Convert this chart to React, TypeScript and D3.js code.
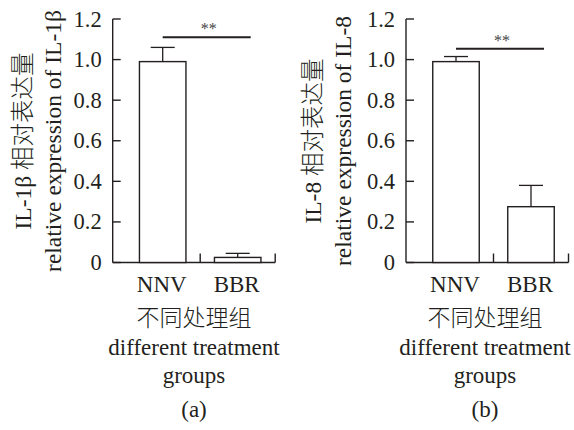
import React from "react";
import * as d3 from "d3";

// values
const groups = ["NNV", "BBR"];
const il1bMean = [0.99, 0.025];
const il1bErr = [0.07, 0.02];
const il8Mean = [0.99, 0.275];
const il8Err = [0.025, 0.105];
const sigLevels = [1.11, 1.053];
const yTicks = [0, 0.2, 0.4, 0.6, 0.8, 1.0, 1.2];
const yLabelCn = ["IL-1β 相对表达量", "IL-8 相对表达量"];
const yLabelEn = ["relative expression of IL-1β", "relative expression of IL-8"];
const panelTags = ["(a)", "(b)"];

const W = 574;
const H = 430;
const FONT = "'Liberation Serif', 'Times New Roman', 'Noto Sans CJK SC', serif";
const INK = "#231f20";

const y = d3.scaleLinear().domain([0, 1.2]).range([262.5, 19]);

function Panel({ axisX, labelX, textX, means, errs, sig, cn, en, tag }) {
  // band scale for the two groups
  const x = d3
    .scaleBand()
    .domain(groups)
    .range([axisX + 12.5, axisX + 162.5])
    .paddingInner(0.38)
    .paddingOuter(0.19);
  const bw = x.bandwidth();
  const step = x.step();
  const x0 = x.range()[0];
  const y0 = y(0);
  const cx = (g) => x(g) + bw / 2;
  const sigX1 = cx(groups[0]);
  const sigX2 = cx(groups[1]) + 13;

  return (
    <g fontFamily={FONT} fill={INK}>
      {/* y axis */}
      <line x1={axisX} x2={axisX} y1={y(1.2)} y2={y0} stroke={INK} strokeWidth={1.4} />
      {yTicks.map((t) => (
        <g key={t}>
          <line x1={axisX} x2={axisX + 8} y1={y(t)} y2={y(t)} stroke={INK} strokeWidth={1.4} />
          <text x={axisX - 11} y={y(t)} textAnchor="end" dominantBaseline="central" fontSize={22.5}>
            {t === 0 ? "0" : t.toFixed(1)}
          </text>
        </g>
      ))}
      {/* x axis */}
      <line x1={axisX} x2={x0 + step * 2} y1={y0} y2={y0} stroke={INK} strokeWidth={1.4} />
      {groups.map((g, i) => (
        <line
          key={g}
          x1={x0 + step * (i + 1)}
          x2={x0 + step * (i + 1)}
          y1={y0}
          y2={y0 - 9}
          stroke={INK}
          strokeWidth={1.4}
        />
      ))}
      {/* bars and error bars */}
      {groups.map((g, i) => (
        <g key={g}>
          <line x1={cx(g)} x2={cx(g)} y1={y(means[i])} y2={y(means[i] + errs[i])} stroke={INK} strokeWidth={1.3} />
          <line x1={cx(g) - 12} x2={cx(g) + 12} y1={y(means[i] + errs[i])} y2={y(means[i] + errs[i])} stroke={INK} strokeWidth={1.3} />
          <rect x={x(g)} y={y(means[i])} width={bw} height={y0 - y(means[i])} fill="#fff" stroke={INK} strokeWidth={1.4} />
          <text x={cx(g) - 1} y={292} textAnchor="middle" fontSize={23}>{g}</text>
        </g>
      ))}
      {/* significance */}
      <line x1={sigX1} x2={sigX2} y1={y(sig)} y2={y(sig)} stroke={INK} strokeWidth={2} />
      <text x={(sigX1 + sigX2) / 2 + 2} y={y(sig) - 3} textAnchor="middle" fontSize={16} fill="#444">
        **
      </text>
      {/* y label */}
      <g transform={`translate(${labelX},141) rotate(-90)`}>
        <text x={0} y={0} textAnchor="middle" fontSize={23.5} fontWeight={300}>{cn}</text>
        <text x={0} y={30} textAnchor="middle" fontSize={23.5}>{en}</text>
      </g>
      {/* bottom texts */}
      <text x={textX} y={326} textAnchor="middle" fontSize={23} fontWeight={300}>不同处理组</text>
      <text x={textX} y={355} textAnchor="middle" fontSize={23}>different treatment</text>
      <text x={textX} y={383} textAnchor="middle" fontSize={23}>groups</text>
      <text x={textX} y={417} textAnchor="middle" fontSize={23}>{tag}</text>
    </g>
  );
}

export default function App() {
  return (
    <svg
      width={W}
      height={H}
      viewBox={`0 0 ${W} ${H}`}
      style={{ position: "absolute", left: 0, top: 0, background: "#fff" }}
    >
      <rect width={W} height={H} fill="#fff" />
      <Panel
        axisX={112.7}
        labelX={31}
        textX={194}
        means={il1bMean}
        errs={il1bErr}
        sig={sigLevels[0]}
        cn={yLabelCn[0]}
        en={yLabelEn[0]}
        tag={panelTags[0]}
      />
      <Panel
        axisX={406}
        labelX={321}
        textX={485}
        means={il8Mean}
        errs={il8Err}
        sig={sigLevels[1]}
        cn={yLabelCn[1]}
        en={yLabelEn[1]}
        tag={panelTags[1]}
      />
    </svg>
  );
}
